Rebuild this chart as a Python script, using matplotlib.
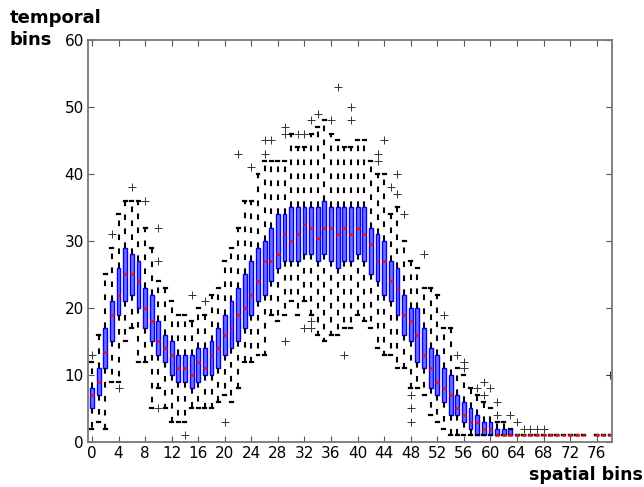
import matplotlib
matplotlib.use("Agg")
import matplotlib.pyplot as plt

# ---- data (per spatial bin 0..78; None = no data) ----
bins = list(range(79))
medians = [7, 9, 13.5, 19, 22, 25, 25, 24, 20, 18,
           15, 14, 13, 11, 11, 10, 12, 11, 13, 14,
           16, 17, 19, 20, 22, 24, 27, 27, 28, 31,
           30, 31, 32.5, 32, 30.5, 32, 32, 31, 32, 31,
           32, 31, 29.5, 27, 27, 24, 23, 19, 18, 16,
           13, 11, 9, 8, 7, 5, 4, 3, 3, 2,
           2, 1, 1, 1, 1, 1, 1, 1, 1, 1,
           1, 1, 1, 1, 1, None, 1, 1, 1]
q1 = [5, 7, 11, 15, 19, 21, 22, 20, 17, 15,
      13, 12, 10, 9, 9, 8, 9, 10, 10, 11,
      13, 14, 15, 17, 19, 21, 22, 24, 26, 27,
      27, 27, 28, 28, 27, 28, 27, 26, 27, 27,
      28, 27, 25, 24, 22, 21, 19, 16, 15, 12,
      11, 8, 7, 6, 4, 4, 3, 2, 1, 1,
      1, 1, 1, 1, 1, 1, 1, 1, 1, 1,
      1, 1, 1, 1, 1, None, 1, 1, 1]
q3 = [8, 11, 17, 21, 26, 29, 28, 27, 23, 22,
      18, 16, 15, 13, 13, 13, 14, 14, 15, 17,
      19, 21, 23, 25, 27, 29, 30, 32, 34, 34,
      35, 35, 35, 35, 35, 36, 35, 35, 35, 35,
      35, 35, 32, 31, 30, 27, 26, 22, 20, 20,
      17, 14, 13, 11, 10, 7, 6, 5, 4, 3,
      3, 2, 2, 2, 1, 1, 1, 1, 1, 1,
      1, 1, 1, 1, 1, None, 1, 1, 1]
whisker_low = [2, 3, 2, 9, 9, 15, 17, 12, 12, 5,
               8, 5, 3, 3, 3, 5, 5, 5, 5, 6,
               7, 6, 8, 12, 12, 13, 13, 19, 18, 19,
               21, 19, 21, 19, 16, 15, 16, 16, 17, 17,
               19, 18, 17, 14, 13, 13, 11, 11, 8, 8,
               7, 4, 3, 2, 1, 1, 1, 1, 1, 1,
               1, 1, 1, 1, 1, 1, 1, 1, 1, 1,
               1, 1, 1, 1, 1, None, 1, 1, 1]
whisker_high = [12, 16, 25, 29, 34, 36, 36, 36, 32, 29,
                24, 23, 21, 19, 19, 18, 20, 19, 22, 23,
                27, 29, 32, 36, 36, 40, 42, 42, 42, 42,
                46, 44, 44, 46, 47, 48, 46, 45, 44, 44,
                45, 45, 42, 40, 40, 34, 35, 30, 27, 26,
                23, 23, 22, 17, 17, 11, 10, 8, 7, 6,
                5, 3, 3, 2, 1, 1, 1, 1, 1, 1,
                1, 1, 1, 1, 1, None, 1, 1, 1]
outliers = {
    0: [13], 3: [31], 4: [8], 6: [38], 8: [36], 10: [32, 27, 5],
    14: [1], 15: [22], 17: [21], 20: [3], 22: [43], 24: [41],
    26: [45, 43], 27: [45], 29: [47, 46, 15], 31: [46], 32: [46, 17],
    33: [48, 18, 17], 34: [49], 36: [48], 37: [53], 38: [13],
    39: [50, 48], 43: [43, 42], 44: [45], 45: [38], 46: [40, 37],
    47: [34], 48: [7, 5, 3], 50: [28], 53: [19], 55: [13],
    56: [12, 11], 58: [8], 59: [9, 7], 60: [8], 61: [6, 4], 63: [4],
    64: [3], 65: [2], 66: [2], 67: [2], 68: [2], 78: [10],
}
xtick_values = list(range(0, 77, 4))
ytick_values = list(range(0, 61, 10))

# ---- build stats ----
stats, positions = [], []
for b in bins:
    if medians[b] is None:
        continue
    stats.append(dict(med=medians[b], q1=q1[b], q3=q3[b],
                      whislo=whisker_low[b], whishi=whisker_high[b],
                      fliers=outliers.get(b, [])))
    positions.append(b)

fig = plt.figure(figsize=(6.44, 4.87), dpi=100)
ax = fig.add_axes([0.1366, 0.0924, 0.8137, 0.8255])

ax.bxp(stats, positions=positions, widths=0.58, capwidths=0.45,
       patch_artist=True, manage_ticks=False,
       boxprops=dict(facecolor="#6f6fff", edgecolor="#0000ff", linewidth=1.0),
       medianprops=dict(color="#ee1111", linewidth=1.8, solid_capstyle="butt"),
       whiskerprops=dict(color="black", linewidth=1.5, linestyle=(0, (2.7, 4.0))),
       capprops=dict(color="black", linewidth=1.6),
       flierprops=dict(marker="+", markeredgecolor="#333333", markersize=5.5,
                       markeredgewidth=0.7, linestyle="none"))

ax.set_xlim(-0.6, 78.3)
ax.set_ylim(0, 60)
ax.set_xticks(xtick_values)
ax.set_xticklabels([str(v) for v in xtick_values])
ax.set_yticks(ytick_values)
ax.set_yticklabels([str(v) for v in ytick_values])
ax.tick_params(direction="in", top=True, right=True, length=4, width=0.8,
               color="#555555", labelsize=11, pad=3)
for s in ax.spines.values():
    s.set_color("#777777")
    s.set_linewidth(1.3)

fig.text(0.015, 0.9528, "temporal", ha="left", va="baseline", fontsize=13,
         fontweight="bold", family="DejaVu Sans")
fig.text(0.015, 0.9076, "bins", ha="left", va="baseline", fontsize=13,
         fontweight="bold", family="DejaVu Sans")
fig.text(0.998, 0.0144, "spatial bins", ha="right", va="baseline", fontsize=12.5,
         fontweight="bold", family="DejaVu Sans")

fig.savefig("out.png", dpi=100)
